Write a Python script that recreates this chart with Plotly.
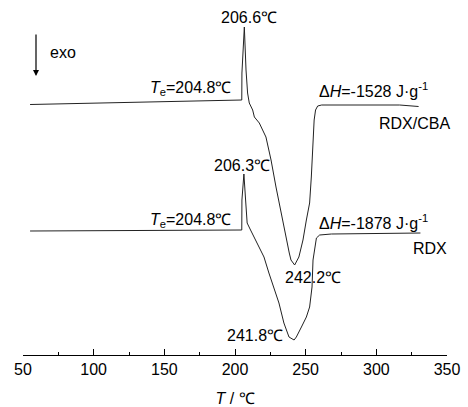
import plotly.graph_objects as go

# Temperature (°C) and heat flow (arbitrary units, offset)
T_cba = [55.0, 104.5, 154.0, 204.8, 204.9, 205.9, 206.6, 207.8, 208.9, 210.1, 212.5, 213.7,
         217.2, 221.9, 225.5, 229.0, 232.6, 236.1, 238.4, 239.6, 242.2, 245.2, 248.1, 250.5,
         252.8, 254.0, 255.1, 256.0, 257.0, 258.5, 261.3, 288.2, 316.5, 329.9]
H_cba = [250.5, 252, 253.5, 255, 282, 305, 328, 285, 262, 252, 245, 238,
         232, 218, 195, 168, 142, 115, 102, 95, 90, 98, 115, 135,
         152, 178, 212, 235, 245, 249, 250, 250, 250, 248.5]

T_rdx = [55.0, 118.6, 204.8, 204.9, 205.6, 206.3, 207.5, 208.6, 211.0, 215.7, 220.5, 224.0,
         227.5, 231.1, 234.6, 238.2, 241.8, 243.4, 247.0, 250.5, 252.8, 254.5, 255.2, 256.4,
         257.6, 259.9, 268.2, 331.2]
H_rdx = [124, 124.5, 125, 155, 165, 181, 155, 132, 125, 112, 98, 82,
         68, 52, 32, 18, 15, 18, 28, 38, 48, 68, 95, 108,
         117, 120, 121, 122]

x_ticks = [50, 100, 150, 200, 250, 300, 350]

FONT = "Liberation Sans, Arial, sans-serif"
LC = "#222222"

fig = go.Figure()
fig.add_trace(go.Scatter(x=T_cba, y=H_cba, mode="lines", line=dict(color=LC, width=1),
                         name="RDX/CBA", showlegend=False))
fig.add_trace(go.Scatter(x=T_rdx, y=H_rdx, mode="lines", line=dict(color=LC, width=1),
                         name="RDX", showlegend=False))

def ann(text, x, y, xanchor="center"):
    fig.add_annotation(text=text, x=x, y=y, xref="x", yref="y", showarrow=False,
                       xanchor=xanchor, yanchor="middle",
                       font=dict(family=FONT, size=16, color="black"))

ann("206.6℃", 209.9, 338)
ann("exo", 67.7, 303, "left")
ann("<i>T</i><sub>e</sub>=204.8℃", 198.6, 267, "right")
ann("Δ<i>H</i>=-1528 J·g<sup>-1</sup>", 258.0, 265, "left")
ann("RDX/CBA", 300.5, 232, "left")
ann("206.3℃", 204.6, 190)
ann("<i>T</i><sub>e</sub>=204.8℃", 198.6, 135, "right")
ann("Δ<i>H</i>=-1878 J·g<sup>-1</sup>", 258.0, 133, "left")
ann("RDX", 324.5, 107, "left")
ann("242.2℃", 234.0, 78, "left")
ann("241.8℃", 192.9, 20, "left")

# exo arrow
fig.add_annotation(x=59.2, y=279, ax=59.2, ay=322, xref="x", yref="y", axref="x", ayref="y",
                   text="", showarrow=True, arrowhead=2, arrowsize=1, arrowwidth=1.2,
                   arrowcolor="black")

fig.update_layout(
    width=468, height=407,
    margin=dict(l=23, r=21, t=5, b=52, autoexpand=False),
    paper_bgcolor="white", plot_bgcolor="white",
    font=dict(family=FONT, size=16, color="black"),
    xaxis=dict(range=[50, 350], tickvals=x_ticks, showline=True, linecolor="black",
               linewidth=1.3, ticks="inside", ticklen=6, tickwidth=1.2, tickcolor="black",
               showgrid=False, zeroline=False, automargin=False,
               minor=dict(dtick=25, tick0=50, ticks="inside", ticklen=3, tickwidth=1,
                          tickcolor="black", showgrid=False),
               tickfont=dict(family=FONT, size=16, color="black"),
               title=dict(text="<i>T</i> / ℃", font=dict(family=FONT, size=16, color="black"),
                          standoff=16)),
    yaxis=dict(range=[0, 350], visible=False, fixedrange=True, automargin=False),
)

fig.write_html("out.html", config={"displayModeBar": False},
               post_script="document.body.style.margin='0px';")
